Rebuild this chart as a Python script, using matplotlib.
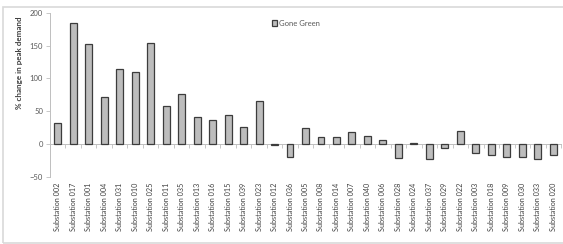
import matplotlib.pyplot as plt
import numpy as np
from matplotlib.patches import Rectangle

# Dữ liệu
stations = ['002', '017', '001', '004', '031', '010', '025', '011', '035', '013',
            '016', '015', '039', '023', '012', '036', '005', '008', '014', '007',
            '040', '006', '028', '024', '037', '029', '022', '003', '018', '009',
            '030', '033', '020']
gone_green = [32, 185, 152, 72, 115, 110, 154, 58, 76, 41,
              37, 45, 26, 65, -2, -20, 24, 11, 11, 18,
              12, 7, -21, 2, -22, -6, 20, -14, -17, -19,
              -20, -22, -16]
yticks = [-50, 0, 50, 100, 150, 200]

labels = ['Substation ' + s for s in stations]
x = np.arange(len(labels))

plt.rcParams['font.family'] = ['Lato', 'DejaVu Sans']
W, H = 563, 244
fig = plt.figure(figsize=(W / 100, H / 100), dpi=100)
ax = fig.add_axes([50 / W, 1 - 177 / H, 511 / W, (177 - 12.7) / H])

ax.bar(x, gone_green, width=0.45, color='#bdbdbd', edgecolor='#3c3c3c',
       linewidth=0.9, label='Gone Green', zorder=3)

ax.set_xlim(-0.5, len(labels) - 0.5)
ax.set_ylim(-50, 200)
ax.set_yticks(yticks)
ax.tick_params(axis='y', labelsize=5.5, labelcolor='#595959', color='#bfbfbf',
               length=3, width=0.6, pad=2)

# trục x tại 0, vạch chia ở ranh giới các cột
for side in ['top', 'right']:
    ax.spines[side].set_visible(False)
ax.spines['left'].set_color('#bfbfbf')
ax.spines['left'].set_linewidth(0.7)
ax.spines['bottom'].set_position(('data', 0))
ax.spines['bottom'].set_color('#bfbfbf')
ax.spines['bottom'].set_linewidth(0.7)
ax.set_xticks(np.arange(len(labels) + 1) - 0.5)
ax.set_xticklabels([])
ax.tick_params(axis='x', length=3, width=0.6, color='#bfbfbf')

sec = ax.secondary_xaxis(0)
sec.set_xticks(x)
sec.set_xticklabels(labels, rotation=90, fontsize=5.2, color='#404040')
sec.tick_params(length=0, pad=4)
sec.spines['bottom'].set_visible(False)

fig.text(20 / W, 1 - 63 / H, '% change in peak demand', rotation=90,
         ha='center', va='center', fontsize=5.8, fontweight='bold', color='#404040')

ax.legend(loc='upper left', bbox_to_anchor=(268 / W, 1 - 16 / H),
          bbox_transform=fig.transFigure, frameon=False, fontsize=5.5,
          handlelength=0.7, handleheight=0.9, handletextpad=0.2,
          borderpad=0, labelcolor='#595959')

fig.patches.append(Rectangle((3 / W, 1 / H), 1.0, 1 - 8 / H, transform=fig.transFigure,
                             fill=False, edgecolor='#d9d9d9', linewidth=1.2))

fig.savefig('out.png', dpi=100)
